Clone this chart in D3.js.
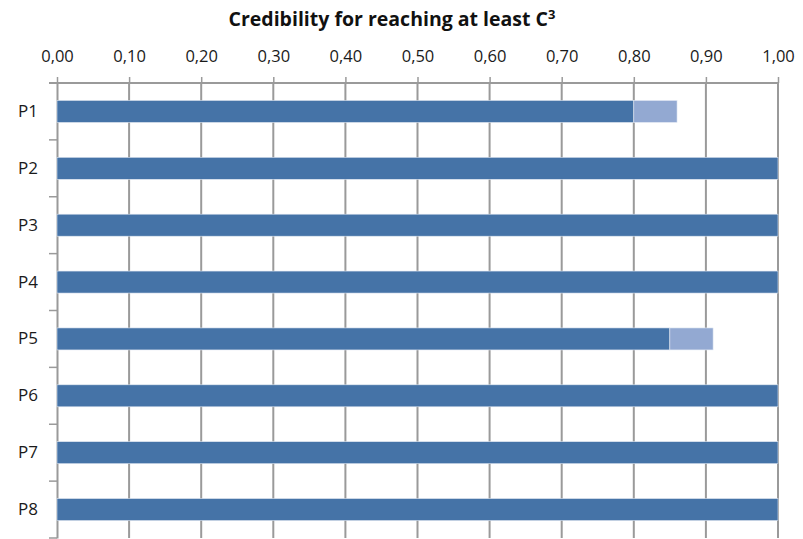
<!DOCTYPE html>
<html><head><meta charset="utf-8">
<script src="https://cdn.jsdelivr.net/npm/d3@7"></script>
<style>body{margin:0;background:#fff}svg{display:block}</style>
</head><body>
<svg id="c" width="803" height="539"></svg>
<script>
const categories = ["P1","P2","P3","P4","P5","P6","P7","P8"];
const credibility = [0.80,1.00,1.00,1.00,0.85,1.00,1.00,1.00];
const extra = [0.06,0.00,0.00,0.00,0.06,0.00,0.00,0.00];
const tickValues = [0,0.1,0.2,0.3,0.4,0.5,0.6,0.7,0.8,0.9,1.0];

const svg = d3.select("#c");
const m = {l:57, r:25, t:83, b:1};
const W = 803, H = 539;
const x = d3.scaleLinear().domain([0,1]).range([m.l, W-m.r]);
const y = d3.scaleBand().domain(categories).range([m.t, H-m.b]).paddingInner(0).paddingOuter(0);
const font = "'Open Sans', 'Noto Sans', sans-serif";

// gridlines
svg.append("g").selectAll("line").data(tickValues.slice(1)).join("line")
  .attr("x1",d=>x(d)).attr("x2",d=>x(d)).attr("y1",m.t).attr("y2",H-m.b)
  .attr("stroke","#9a9a9a").attr("stroke-width",2);

// top axis
const fmt = d => d3.format(".2f")(d).replace(".",",");
const ax = svg.append("g").attr("transform",`translate(0,${m.t})`)
  .call(d3.axisTop(x).tickValues(tickValues).tickFormat(fmt).tickSize(6).tickPadding(15));
ax.select(".domain").attr("stroke","#9a9a9a").attr("stroke-width",2).attr("d",`M${m.l-8},0H${W-m.r}`);
ax.selectAll(".tick line").attr("stroke","#9a9a9a").attr("stroke-width",1.5);
ax.selectAll("text").attr("font-family",font).attr("font-size",16.5).attr("fill","#1a1a1a");

// left axis
const ay = svg.append("g").attr("transform",`translate(${m.l},0)`)
  .call(d3.axisLeft(y).tickSize(0).tickPadding(19));
ay.select(".domain").attr("stroke","#9a9a9a").attr("stroke-width",2);
ay.selectAll("text").attr("font-family",font).attr("font-size",17).attr("fill","#1a1a1a");
svg.append("g").selectAll("line").data(d3.range(categories.length+1)).join("line")
  .attr("x1",m.l-8).attr("x2",m.l).attr("y1",i=>m.t+i*y.step()).attr("y2",i=>m.t+i*y.step())
  .attr("stroke","#9a9a9a").attr("stroke-width",1.5);

// bars
const bh = 22;
svg.append("g").selectAll("rect").data(categories).join("rect")
  .attr("x",x(0)).attr("y",d=>y(d)+y.bandwidth()/2-bh/2)
  .attr("width",(d,i)=>x(credibility[i])-x(0)).attr("height",bh)
  .attr("fill","#4573a7").attr("stroke","#dfe6f0").attr("stroke-width",0.6);
svg.append("g").selectAll("rect").data(categories).join("rect")
  .attr("x",(d,i)=>x(credibility[i])).attr("y",d=>y(d)+y.bandwidth()/2-bh/2)
  .attr("width",(d,i)=>x(credibility[i]+extra[i])-x(credibility[i])).attr("height",bh)
  .attr("fill","#93a9d2").attr("stroke","#e6ecf5").attr("stroke-width",0.6);

// title
const t = svg.append("text").attr("x",392).attr("y",26).attr("text-anchor","middle")
  .attr("font-family",font).attr("font-weight","bold").attr("font-size",19.5).attr("fill","#111");
t.append("tspan").text("Credibility for reaching at least C");
t.append("tspan").attr("dy",-7).attr("font-size",13).text("3");
</script>
</body></html>
